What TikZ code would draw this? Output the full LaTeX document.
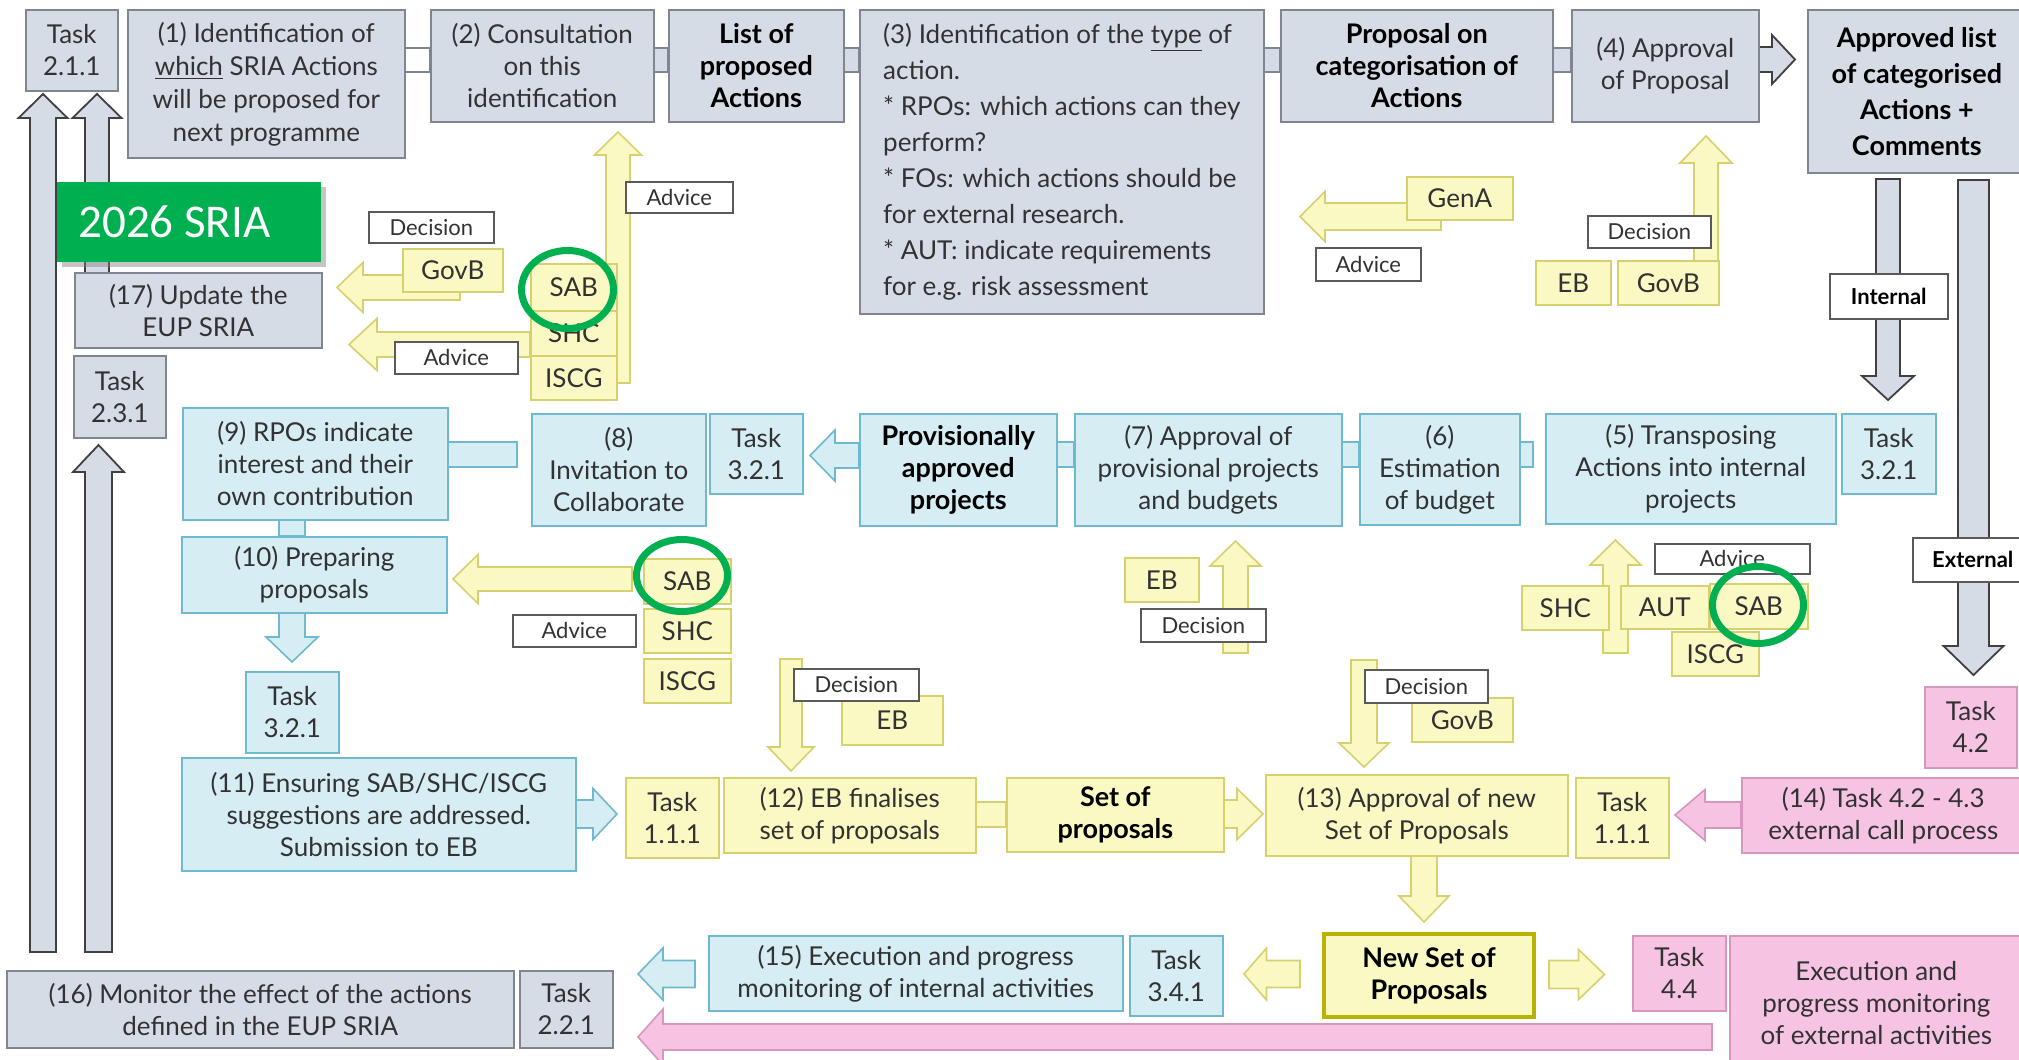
\documentclass[tikz,border=0pt]{standalone}
\usepackage{fontspec}
\setmainfont{Lato}
\newfontfamily\carlito{Carlito}
\usetikzlibrary{shadows}
\definecolor{gfill}{RGB}{214,220,230}
\definecolor{gdraw}{RGB}{128,134,145}
\definecolor{bfill}{RGB}{214,237,243}
\definecolor{bdraw}{RGB}{110,185,205}
\definecolor{yfill}{RGB}{251,249,195}
\definecolor{ydraw}{RGB}{215,208,110}
\definecolor{pfill}{RGB}{246,196,226}
\definecolor{pdraw}{RGB}{215,150,190}
\definecolor{txt}{RGB}{50,50,50}
\definecolor{sriagreen}{RGB}{0,176,80}
\definecolor{lbldraw}{RGB}{90,90,90}
\definecolor{olive}{RGB}{185,178,0}
\newcommand\hArr[7]{\draw[#1] (#2,#5-#6) -- (#3,#5-#6) -- (#3,#5-#7) -- (#4,#5) -- (#3,#5+#7) -- (#3,#5+#6) -- (#2,#5+#6) -- cycle;}
\newcommand\vArr[7]{\draw[#1] (#5-#6,#2) -- (#5-#6,#3) -- (#5-#7,#3) -- (#5,#4) -- (#5+#7,#3) -- (#5+#6,#3) -- (#5+#6,#2) -- cycle;}
\newcommand\bx[7]{\node[#2, anchor=north west, minimum width={(#5-#3)*0.5pt}, minimum height={(#6-#4)*0.5pt}] (#1) at (#3,#4) {#7};}
\begin{document}
\begin{tikzpicture}[x=0.5pt,y=-0.5pt,
  box/.style={inner sep=0pt, align=center, line width=0.8pt, font=\fontsize{13}{16}\selectfont, text=txt},
  gbox/.style={box, fill=gfill, draw=gdraw},
  bbox/.style={box, fill=bfill, draw=bdraw},
  ybox/.style={box, fill=yfill, draw=ydraw},
  pbox/.style={box, fill=pfill, draw=pdraw},
  bf/.style={font=\fontsize{13.5}{16}\selectfont\bfseries, text=black},
  lbl/.style={inner sep=0pt, align=center, fill=white, draw=lbldraw, line width=0.8pt, font=\fontsize{11}{13}\selectfont, text=txt},
  lblb/.style={lbl, font=\fontsize{11}{13}\selectfont\bfseries, text=black},
  garr/.style={fill=gfill, draw=black!75, line width=0.9pt},
  yarr/.style={fill=yfill, draw=ydraw, line width=0.8pt},
  barr/.style={fill=bfill, draw=bdraw, line width=0.8pt},
  parr/.style={fill=pfill, draw=pdraw, line width=0.8pt},
  gconn/.style={fill=gfill, draw=gdraw, line width=0.8pt},
  bconn/.style={fill=bfill, draw=bdraw, line width=0.8pt},
  yconn/.style={fill=yfill, draw=ydraw, line width=0.8pt},
  ring/.style={draw=sriagreen, line width=3.5pt}
]
\useasboundingbox (0,0) rectangle (2019,1060);
\fill[white] (0,0) rectangle (2019,1060);

% ---------- arrows and connectors (behind boxes) ----------
% left vertical arrows
\vArr{garr}{952}{118}{94}{43}{13}{24.5}
\vArr{garr}{300}{118}{94}{97}{12}{24.5}
\vArr{garr}{952}{472}{445}{98.5}{13.5}{25.5}
% top row connectors
\draw[fill=white, draw=gdraw, line width=0.8pt] (404,48) rectangle (430,72);
\draw[gconn] (653,48) rectangle (668,72);
\draw[gconn] (843,48) rectangle (859,72);
\draw[gconn] (1263,48) rectangle (1280,72);
\draw[gconn] (1552,48) rectangle (1571,72);
\hArr{garr}{1758}{1772}{1795}{59.5}{12.5}{24.5}
% internal / external
\vArr{garr}{179}{376}{400}{1888}{12}{26}
\vArr{garr}{180}{646}{675}{1973.5}{15.5}{30}
% yellow arrows near (2) and (17)
\vArr{yarr}{383}{155}{132}{618}{12}{23.5}
\hArr{yarr}{460}{363}{337}{287.5}{12.5}{25}
\hArr{yarr}{530}{377}{349}{344.5}{12.5}{26}
% GenA and (4)
\hArr{yarr}{1441}{1325}{1300}{216.5}{13.5}{25}
\vArr{yarr}{277}{163}{136}{1706}{12}{26}
% middle row
\draw[bconn] (447,442) rectangle (517,467);
\draw[bconn] (279,519) rectangle (305,536);
\draw[bconn] (1056,442) rectangle (1074,467);
\draw[bconn] (1341,442) rectangle (1359,467);
\draw[bconn] (1519,442) rectangle (1533,467);
\hArr{barr}{859}{835}{810}{455.5}{12.5}{25.5}
\vArr{yarr}{653}{565}{540}{1615.5}{12.5}{25.5}
\vArr{yarr}{653}{566}{541}{1235.5}{12.5}{25.5}
\hArr{yarr}{632}{478}{453}{579}{12}{24.5}
\vArr{barr}{612}{637}{662}{292}{13}{26}
\vArr{yarr}{659}{747}{771}{791}{11}{23}
\vArr{yarr}{660}{743}{767}{1364}{13}{25}
% lower rows
\hArr{barr}{575}{593}{617}{814}{14}{25.5}
\draw[yconn] (975,802) rectangle (1006,827);
\hArr{yarr}{1223}{1237}{1263}{814}{14}{25.5}
\hArr{parr}{1741}{1705}{1675}{815}{13}{25.5}
\vArr{yarr}{847}{896}{922}{1424}{13}{25}
\hArr{yarr}{1300}{1266.5}{1244}{974}{13.5}{26}
\hArr{barr}{695}{663}{638}{974}{13.5}{26}
\hArr{yarr}{1549}{1578.5}{1604.5}{974.5}{14}{25}
\hArr{parr}{1712}{663}{638}{1037}{13}{28}

% ---------- grey boxes ----------
\bx{t211}{gbox}{25}{9}{117}{90}{Task\\2.1.1}
\bx{b1}{gbox,font=\fontsize{13}{16.5}\selectfont}{127}{9}{404}{157}{(1) Identification of\\\underline{which} SRIA Actions\\will be proposed for\\next programme}
\bx{b2}{gbox}{430}{9}{653}{121}{(2) Consultation\\on this\\identification}
\bx{blist}{gbox,bf}{668}{9}{843}{121}{List of\\proposed\\Actions}
\bx{b3}{gbox,align=left,font=\fontsize{13}{18}\selectfont}{859}{9}{1263}{313}{(3) Identification of the \underline{type} of\\action.\\* RPOs: which actions can they\\perform?\\* FOs: which actions should be\\for external research.\\* AUT: indicate requirements\\for e.g. risk assessment}
\bx{bprop}{gbox,bf}{1280}{9}{1552}{121}{Proposal on\\categorisation of\\Actions}
\bx{b4}{gbox}{1571}{9}{1758}{121}{(4) Approval\\of Proposal}
\bx{bappr}{gbox,bf,font=\fontsize{13.5}{18}\selectfont\bfseries}{1807}{9}{2025}{172}{Approved list\\of categorised\\Actions +\\Comments}
\bx{b17}{gbox}{74}{272}{321}{347}{(17) Update the\\EUP SRIA}
\bx{t231}{gbox}{73}{355}{165}{437}{Task\\2.3.1}
\bx{b16}{gbox}{6}{970}{513}{1047}{(16) Monitor the effect of the actions\\defined in the EUP SRIA}
\bx{t221}{gbox}{519}{970}{612}{1047}{Task\\2.2.1}

% ---------- blue boxes ----------
\bx{b9}{bbox}{182}{407}{447}{519}{(9) RPOs indicate\\interest and their\\own contribution}
\bx{b8}{bbox}{531}{413}{705}{525}{(8)\\Invitation to\\Collaborate}
\bx{t321m}{bbox}{709}{413}{802}{493}{Task\\3.2.1}
\bx{bprov}{bbox,bf}{859}{413}{1056}{525}{Provisionally\\approved\\projects}
\bx{b7}{bbox}{1074}{413}{1341}{525}{(7) Approval of\\provisional projects\\and budgets}
\bx{b6}{bbox}{1359}{413}{1519}{524}{(6)\\Estimation\\of budget}
\bx{b5}{bbox}{1545}{413}{1835}{523}{(5) Transposing\\Actions into internal\\projects}
\bx{t321r}{bbox}{1841}{413}{1935}{493}{Task\\3.2.1}
\bx{b10}{bbox}{181}{536}{446}{612}{(10) Preparing\\proposals}
\bx{t321l}{bbox}{245}{671}{338}{752}{Task\\3.2.1}
\bx{b11}{bbox}{181}{757}{575}{870}{(11) Ensuring SAB/SHC/ISCG\\suggestions are addressed.\\Submission to EB}
\bx{b15}{bbox}{708}{935}{1122}{1010}{(15) Execution and progress\\monitoring of internal activities}
\bx{t341}{bbox}{1129}{935}{1222}{1015}{Task\\3.4.1}

% ---------- yellow boxes ----------
\bx{t111l}{ybox}{625}{777}{718}{857}{Task\\1.1.1}
\bx{b12}{ybox}{723}{777}{975}{852}{(12) EB finalises\\set of proposals}
\bx{bset}{ybox,bf}{1006}{777}{1223}{851}{Set of\\proposals}
\bx{b13}{ybox}{1265}{774}{1567}{855}{(13) Approval of new\\Set of Proposals}
\bx{t111r}{ybox}{1575}{777}{1668}{857}{Task\\1.1.1}
\bx{bnew}{ybox,bf,draw=olive,line width=2pt}{1322}{932}{1532}{1015}{New Set of\\Proposals}
% yellow actor labels
\bx{govb1}{ybox}{402}{248}{502}{291}{GovB}
\bx{sab1}{ybox}{530}{263}{616}{310}{SAB}
\bx{shc1}{ybox}{530}{310}{616}{355}{SHC}
\bx{iscg1}{ybox}{530}{355}{616}{399}{ISCG}
\bx{gena}{ybox}{1406}{176}{1512}{219}{GenA}
\bx{eb4}{ybox}{1535}{260}{1610}{304}{EB}
\bx{govb4}{ybox}{1617}{260}{1718}{304}{GovB}
\bx{sab2}{ybox}{643}{558}{730}{603}{SAB}
\bx{shc2}{ybox}{643}{608}{730}{652}{SHC}
\bx{iscg2}{ybox}{643}{658}{730}{702}{ISCG}
\bx{eb7}{ybox}{1124}{557}{1198}{601}{EB}
\bx{eb12}{ybox}{841}{695}{942}{744}{EB}
\bx{govb13}{ybox}{1411}{697}{1512}{741}{GovB}
\bx{shc5}{ybox}{1521}{585}{1608}{629}{SHC}
\bx{aut5}{ybox}{1620}{585}{1708}{628}{AUT}
\bx{sab5}{ybox}{1709}{583}{1807}{628}{SAB}
\bx{iscg5}{ybox}{1671}{631}{1758}{675}{ISCG}

% ---------- pink boxes ----------
\bx{t42}{pbox}{1924}{686}{2016}{767}{Task\\4.2}
\bx{b14}{pbox}{1741}{777}{2024}{852}{(14) Task 4.2 - 4.3\\external call process}
\bx{t44}{pbox}{1632}{935}{1725}{1010}{Task\\4.4}
\bx{bext}{pbox}{1729}{935}{2022}{1069}{Execution and\\progress monitoring\\of external activities}

% ---------- white labels ----------
\bx{dec1}{lbl}{368}{211}{493}{242}{Decision}
\bx{adv1}{lbl}{625}{181}{732}{212}{Advice}
\bx{adv2}{lbl}{394}{341}{517}{373}{Advice}
\bx{adv3}{lbl}{1315}{247}{1420}{280}{Advice}
\bx{dec4}{lbl}{1587}{215}{1710}{247}{Decision}
\bx{int}{lblb}{1829}{273}{1947}{318}{Internal}
\bx{ext}{lblb}{1912}{537}{2032}{581}{External}
\bx{adv5}{lbl}{1654}{543}{1809}{573}{Advice}
\bx{dec7}{lbl}{1140}{608}{1265}{641}{Decision}
\bx{adv10}{lbl}{512}{614}{635}{646}{Advice}
\bx{dec12}{lbl}{793}{668}{918}{700}{Decision}
\bx{dec13}{lbl}{1364}{669}{1487}{702}{Decision}

% ---------- green rings ----------
\draw[ring] (567.5,289.5) ellipse [x radius=23pt, y radius=19.5pt];
\draw[ring] (682,575.5) ellipse [x radius=22.75pt, y radius=18pt];
\draw[ring] (1758,605) ellipse [x radius=22.75pt, y radius=19.25pt];

% ---------- 2026 SRIA label ----------
\node[fill=sriagreen, drop shadow={opacity=0.45}, anchor=north west, inner sep=0pt,
      minimum width=132pt, minimum height=40pt] (sria) at (57,182) {};
\node[anchor=west, inner sep=0pt, text=white, font=\carlito\fontsize{23.5}{28}\selectfont] (sriatext) at (78,222) {2026 SRIA};
\end{tikzpicture}
\end{document}
